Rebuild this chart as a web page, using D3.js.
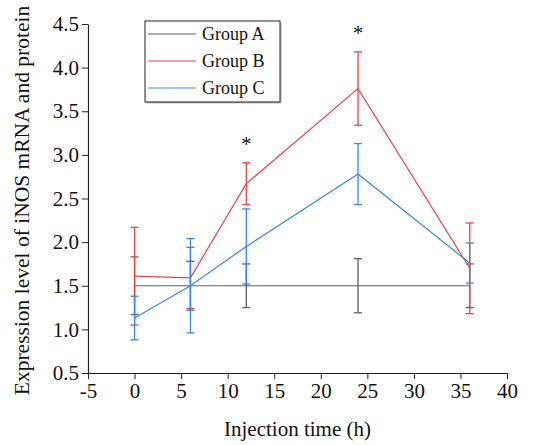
<!DOCTYPE html>
<html lang='en'>
    <head>
        <meta charset='utf-8'>
        <title>iNOS expression</title>
        <script src="https://d3js.org/d3.v7.min.js" charset='utf-8'></script>
        <style type='text/css'>
            body { margin: 0; background: #fff; }
            svg { display: block; }
            text { font-family: 'Liberation Serif', 'Times New Roman', serif; fill: #111; }
        </style>
    </head>
    <body>
        <script type='text/javascript'>
            // data
            var times = [0, 6, 12, 24, 36];
            var groupNames = ['Group A', 'Group B', 'Group C'];
            var groupA = [1.5, 1.5, 1.5, 1.5, 1.5];
            var groupAErr = [0.33, 0.28, 0.25, 0.31, 0.25];
            var groupB = [1.61, 1.59, 2.67, 3.76, 1.70];
            var groupBErr = [0.56, 0.35, 0.24, 0.42, 0.52];
            var groupC = [1.13, 1.5, 1.95, 2.78, 1.76];
            var groupCErr = [0.25, 0.54, 0.43, 0.35, 0.23];
            var starTimes = [12, 24];
            var starValues = [2.91, 4.18];
            var xTicks = [-5, 0, 5, 10, 15, 20, 25, 30, 35, 40];
            var yTicks = [0.5, 1.0, 1.5, 2.0, 2.5, 3.0, 3.5, 4.0, 4.5];

            var colors = ['#606060', '#e8434a', '#3a86e0'];
            var series = [
                {name: groupNames[0], vals: groupA, errs: groupAErr, color: colors[0]},
                {name: groupNames[1], vals: groupB, errs: groupBErr, color: colors[1]},
                {name: groupNames[2], vals: groupC, errs: groupCErr, color: colors[2]}
            ];

            var W = 539, H = 445;
            var margin = {top: 24, right: 32, bottom: 72, left: 88};
            var svg = d3.select('body').append('svg')
                .attr('width', W).attr('height', H);

            var x = d3.scaleLinear().domain([-5, 40]).range([margin.left, W - margin.right]);
            var y = d3.scaleLinear().domain([0.5, 4.5]).range([H - margin.bottom, margin.top]);

            // axes with one minor tick between majors
            var xMinor = d3.range(-2.5, 40, 5);
            var yMinor = d3.range(0.75, 4.5, 0.5);

            var gx = svg.append('g').attr('transform', 'translate(0,' + y(0.5) + ')');
            gx.call(d3.axisBottom(x).tickValues(xMinor).tickSize(3).tickFormat(''));
            gx.call(d3.axisBottom(x).tickValues(xTicks).tickSize(6).tickSizeOuter(0)
                .tickFormat(function(d) { return String(d); }));
            var gy = svg.append('g').attr('transform', 'translate(' + x(-5) + ',0)');
            gy.call(d3.axisLeft(y).tickValues(yMinor).tickSize(3).tickFormat(''));
            gy.call(d3.axisLeft(y).tickValues(yTicks).tickSize(6).tickSizeOuter(0).tickFormat(d3.format('.1f')));
            svg.selectAll('.domain').attr('stroke', '#222').attr('stroke-width', 1.2);
            svg.selectAll('.tick line').attr('stroke', '#222');
            gx.selectAll('.tick text').style('font-size', '21px').attr('y', 8).attr('dy', '0.8em')
                .style('font-family', "'Liberation Serif', serif").attr('fill', '#111');
            gy.selectAll('.tick text').style('font-size', '21px').attr('x', -9)
                .style('font-family', "'Liberation Serif', serif").attr('fill', '#111');

            // axis titles
            svg.append('text')
                .attr('x', x(17.5)).attr('y', 436)
                .attr('text-anchor', 'middle').style('font-size', '21px')
                .text('Injection time (h)');
            svg.append('text')
                .attr('transform', 'translate(29,' + (y(2.5) + 2) + ') rotate(-90)')
                .attr('text-anchor', 'middle').style('font-size', '21.5px')
                .text('Expression level of iNOS mRNA and protein');

            var line = d3.line()
                .x(function(d) { return x(d[0]); })
                .y(function(d) { return y(d[1]); });

            series.forEach(function(s) {
                var pts = times.map(function(t, i) { return [t, s.vals[i], s.errs[i]]; });
                var g = svg.append('g');
                g.append('path')
                    .datum(pts)
                    .attr('d', line)
                    .attr('fill', 'none')
                    .attr('stroke', s.color)
                    .attr('stroke-width', 1.2);
                var eb = g.selectAll('.eb').data(pts).enter().append('g');
                eb.append('line')
                    .attr('x1', function(d) { return x(d[0]); })
                    .attr('x2', function(d) { return x(d[0]); })
                    .attr('y1', function(d) { return y(d[1] - d[2]); })
                    .attr('y2', function(d) { return y(d[1] + d[2]); })
                    .attr('stroke', s.color).attr('stroke-width', 1.3);
                [-1, 1].forEach(function(sign) {
                    eb.append('line')
                        .attr('x1', function(d) { return x(d[0]) - 4; })
                        .attr('x2', function(d) { return x(d[0]) + 4; })
                        .attr('y1', function(d) { return y(d[1] + sign * d[2]); })
                        .attr('y2', function(d) { return y(d[1] + sign * d[2]); })
                        .attr('stroke', s.color).attr('stroke-width', 1.3);
                });
            });

            // significance stars
            svg.selectAll('.star').data(starTimes).enter().append('text')
                .attr('x', function(d) { return x(d); })
                .attr('y', function(d, i) { return y(starValues[i]) - 12; })
                .attr('text-anchor', 'middle')
                .style('font-size', '21px')
                .text('*');

            // legend
            var lg = svg.append('g').attr('transform', 'translate(145,21)');
            lg.append('rect').attr('x', 1.5).attr('y', 1.5).attr('width', 135).attr('height', 81)
                .attr('fill', '#bbb');
            lg.append('rect').attr('width', 135).attr('height', 81)
                .attr('fill', '#fff').attr('stroke', '#222').attr('stroke-width', 1);
            series.forEach(function(s, i) {
                var yy = 13 + i * 27;
                lg.append('line').attr('x1', 3).attr('x2', 51).attr('y1', yy).attr('y2', yy)
                    .attr('stroke', s.color).attr('stroke-width', 1.2);
                lg.append('text').attr('x', 57).attr('y', yy + 6)
                    .style('font-size', '18px').text(s.name);
            });
        </script>
    </body>
</html>
